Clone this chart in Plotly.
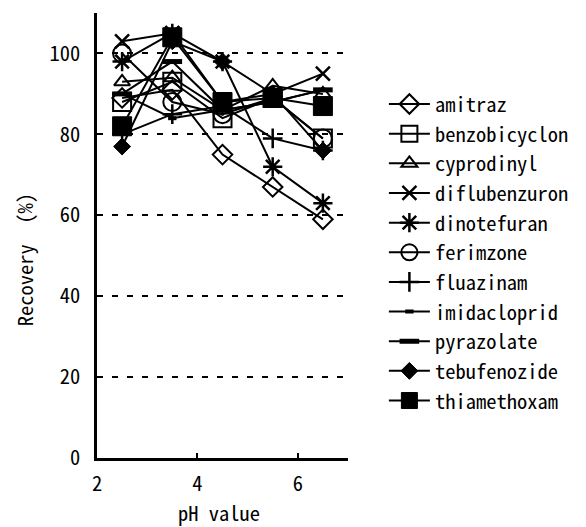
import plotly.graph_objects as go

ph = [2.5, 3.5, 4.5, 5.5, 6.5]

names = ["amitraz", "benzobicyclon", "cyprodinyl", "diflubenzuron", "dinotefuran",
         "ferimzone", "fluazinam", "imidacloprid", "pyrazolate", "tebufenozide", "thiamethoxam"]

amitraz = [89, 91, 75, 67, 59]
benzobicyclon = [88, 93, 84, 89, 79]
cyprodinyl = [93, 94, 86, 92, 90]
diflubenzuron = [103, 105, 88, 90, 95]
dinotefuran = [98, 105, 98, 72, 63]
ferimzone = [100, 88, 85, 89, 79]
fluazinam = [80, 85, 87, 79, 76]
imidacloprid = [90, 84, 86, 88, 91]
pyrazolate = [90, 98, 86, 88, 91]
tebufenozide = [77, 103, 98, 90, 76]
thiamethoxam = [82, 104, 88, 89, 87]

values = [amitraz, benzobicyclon, cyprodinyl, diflubenzuron, dinotefuran,
          ferimzone, fluazinam, imidacloprid, pyrazolate, tebufenozide, thiamethoxam]

symbols = ["diamond-open", "square-open", "triangle-up-open", "x-thin-open", "asterisk-open",
           "circle-open", "cross-thin-open", "line-ew-open", "line-ew-open", "diamond", "square"]
sizes = [15, 18, 14, 14, 16, 18, 14, 6, 14, 13, 19]
mlw = [2, 2, 2, 2.5, 2.5, 2, 2.5, 4, 5, 1, 1]

FONT = "Noto Sans Mono CJK JP, Liberation Mono, monospace"
FS = 20.5

fig = go.Figure()
for n, v, s, sz, w in zip(names, values, symbols, sizes, mlw):
    fig.add_trace(go.Scatter(
        x=ph, y=v, name=n, mode="lines+markers",
        line=dict(color="black", width=2),
        marker=dict(symbol=s, size=sz, color="black",
                    line=dict(color="black", width=w)),
    ))

fig.add_annotation(text="Recovery\u3000(%)", xref="paper", yref="paper",
                   x=-0.29, y=0.445, xanchor="center", yanchor="middle",
                   textangle=-90, showarrow=False, font=dict(family=FONT, size=FS))
fig.add_annotation(text="pH value", xref="paper", yref="paper",
                   x=0.488, y=-0.1205, xanchor="center", yanchor="middle",
                   showarrow=False, borderpad=0, font=dict(family=FONT, size=FS))

fig.update_layout(
    width=586, height=527,
    margin=dict(l=97, r=231, t=13, b=69),
    plot_bgcolor="white", paper_bgcolor="white",
    font=dict(family=FONT, size=FS, color="black"),
    legend=dict(x=1.143, y=0.84, xanchor="left", yanchor="top", itemwidth=41,
                font=dict(family=FONT, size=FS, color="black"),
                bgcolor="rgba(0,0,0,0)", tracegroupgap=0),
    xaxis=dict(range=[2, 7], tickvals=[2, 4, 6], ticks="inside", ticklen=5,
               tickwidth=2, tickcolor="black", showline=True, linecolor="black",
               linewidth=2.5, showgrid=False, zeroline=False, ticklabelstandoff=6),
    yaxis=dict(range=[0, 110], tickvals=[0, 20, 40, 60, 80, 100], ticks="inside",
               ticklen=4, tickwidth=2, tickcolor="black", showline=True,
               linecolor="black", linewidth=2.5, showgrid=True, gridcolor="black",
               gridwidth=2, griddash="6px,9px", zeroline=False, ticklabelstandoff=10),
)

fig.write_html("out.html")
